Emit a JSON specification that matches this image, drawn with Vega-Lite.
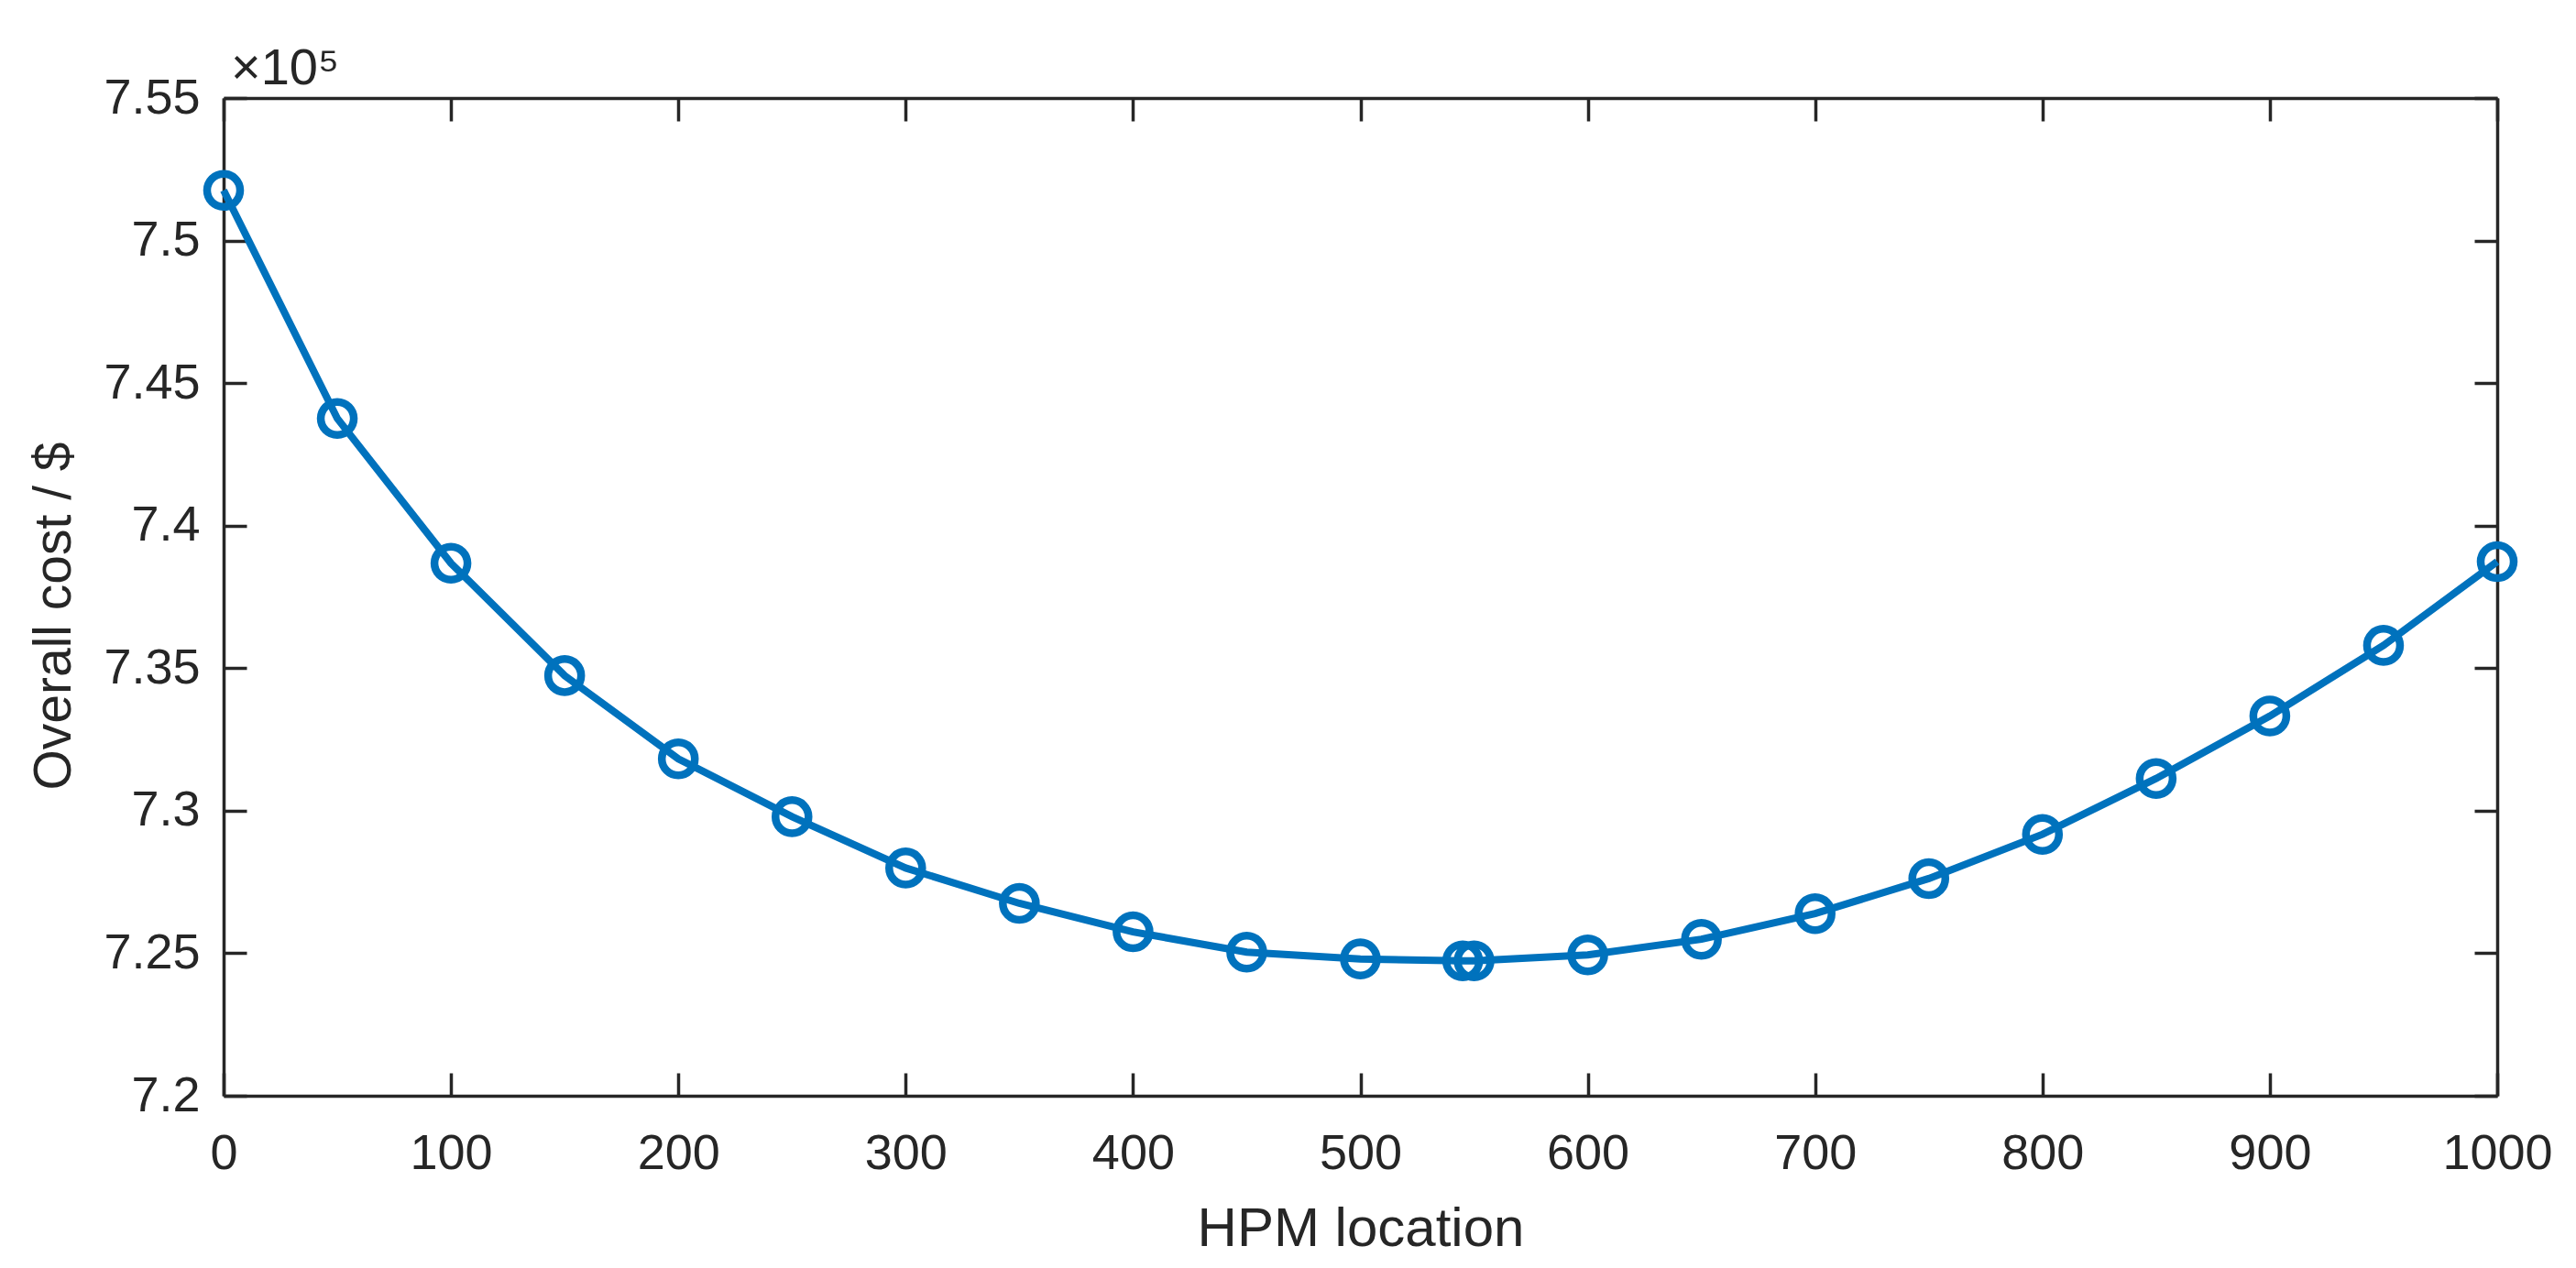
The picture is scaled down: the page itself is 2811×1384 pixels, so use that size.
{
  "$schema": "https://vega.github.io/schema/vega-lite/v6.json",
  "width": 2481,
  "height": 1089,
  "autosize": {"type": "none"},
  "padding": {"left": 244, "top": 107, "right": 86, "bottom": 188},
  "background": "white",
  "config": {
    "view": {"stroke": null},
    "axis": {
      "grid": false,
      "domainColor": "#262626",
      "domainWidth": 3.5,
      "tickColor": "#262626",
      "tickWidth": 3.5,
      "tickSize": -25,
      "labelFont": "Liberation Sans",
      "labelFontSize": 54,
      "labelColor": "#262626",
      "labelFlush": false,
      "labelOverlap": false,
      "titleFont": "Liberation Sans",
      "titleFontSize": 60,
      "titleFontWeight": "normal",
      "titleColor": "#262626"
    }
  },
  "title": {
    "text": "×10⁵",
    "anchor": "start",
    "frame": "group",
    "offset": -24,
    "dx": 8,
    "font": "Liberation Sans",
    "fontSize": 56,
    "fontWeight": "normal",
    "color": "#262626"
  },
  "data": {
    "values": [
      {"location": 0, "cost": 751760},
      {"location": 50, "cost": 743760},
      {"location": 100, "cost": 738680},
      {"location": 150, "cost": 734740},
      {"location": 200, "cost": 731820},
      {"location": 250, "cost": 729790},
      {"location": 300, "cost": 727990},
      {"location": 350, "cost": 726750},
      {"location": 400, "cost": 725750},
      {"location": 450, "cost": 725040},
      {"location": 500, "cost": 724800},
      {"location": 545, "cost": 724730},
      {"location": 550, "cost": 724730},
      {"location": 600, "cost": 724940},
      {"location": 650, "cost": 725490},
      {"location": 700, "cost": 726390},
      {"location": 750, "cost": 727620},
      {"location": 800, "cost": 729170},
      {"location": 850, "cost": 731130},
      {"location": 900, "cost": 733320},
      {"location": 950, "cost": 735800},
      {"location": 1000, "cost": 738740}
    ]
  },
  "layer": [
    {
      "mark": {
        "type": "line",
        "color": "#0072BD",
        "strokeWidth": 8,
        "clip": false,
        "point": {"shape": "circle", "filled": false, "size": 1300, "strokeWidth": 8.5, "color": "#0072BD"}
      },
      "encoding": {
        "x": {
          "field": "location", "type": "quantitative",
          "scale": {"domain": [0, 1000], "nice": false, "zero": false},
          "axis": {"orient": "bottom", "title": "HPM location", "format": "d", "values": [0,100,200,300,400,500,600,700,800,900,1000], "labelPadding": 61, "titlePadding": 26}
        },
        "y": {
          "field": "cost", "type": "quantitative",
          "scale": {"domain": [720000, 755000], "nice": false, "zero": false},
          "axis": {"orient": "left", "title": "Overall cost / $", "titleFontSize": 57, "titleY": 565, "values": [720000,725000,730000,735000,740000,745000,750000,755000], "labelExpr": "format(datum.value/100000, '.3~f')", "labelPadding": 51, "titlePadding": 24}
        }
      }
    },
    {
      "mark": {"type": "line", "opacity": 0},
      "encoding": {
        "x": {
          "field": "location", "type": "quantitative",
          "scale": {"domain": [0, 1000], "nice": false, "zero": false},
          "axis": {"orient": "top", "title": null, "labels": false, "values": [0,100,200,300,400,500,600,700,800,900,1000]}
        },
        "y": {
          "field": "cost", "type": "quantitative",
          "scale": {"domain": [720000, 755000], "nice": false, "zero": false},
          "axis": {"orient": "right", "title": null, "labels": false, "values": [720000,725000,730000,735000,740000,745000,750000,755000]}
        }
      }
    }
  ],
  "resolve": {"axis": {"x": "independent", "y": "independent"}}
}
